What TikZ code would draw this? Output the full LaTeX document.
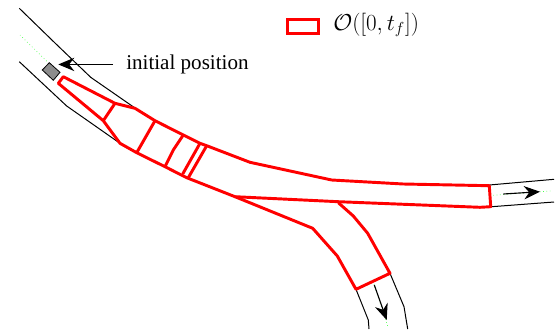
\documentclass[tikz,border=0pt]{standalone}
\usepackage{fontspec}
\setmainfont{Liberation Serif}
\usetikzlibrary{arrows.meta}
\tikzset{
  road/.style={draw=black, line width=0.75pt},
  centerline/.style={draw=green!70, dotted, line width=0.5pt},
  region/.style={draw=red, line width=2.2pt, line join=round},
  flow/.style={draw=black, line width=0.85pt, -{Stealth[length=12pt,width=10pt]}},
  textlabel/.style={inner sep=0.75pt, font=\fontsize{15.8}{18}\selectfont},
  mathlabel/.style={inner sep=0.75pt, font=\fontsize{18}{20}\selectfont}
}
\begin{document}
\begin{tikzpicture}[x=0.75pt,y=0.75pt,yscale=-1,xscale=1]
        \useasboundingbox (0,0) rectangle (560,329);
        % road borders
        \draw [road] (19.3,8.3) -- (55,43) -- (90.7,77.3) -- (135,108);
        \draw [road] (19.3,61.7) -- (66.7,106) -- (120,143.3);
        \draw [road] (489.3,185) -- (554,179.3);
        \draw [road] (491.7,206.7) -- (554,202);
        \draw [road] (356,289.3) -- (368.3,320) -- (369,329);
        \draw [road] (390,273.3) -- (404,306.7) -- (407.7,329);
        % center lines
        \draw [centerline] (20,35) -- (48.3,62.7);
        \draw [centerline] (493.3,195.3) -- (553,190.7);
        \draw [centerline] (374,284) -- (388.3,328);
        % vehicle
        \draw [fill=black!45, line width=0.6pt] (42.3,70) -- (53.3,80.3) -- (60,72.3) -- (49.3,62.7) -- cycle;
        % occupancy
        \draw [region] (63.3,76.7) -- (115,103.3) -- (135,108.3) -- (155,120.7) -- (183.3,135) -- (200,143.3) -- (206.7,145.7) -- (250,162.3) -- (331.7,180) -- (403.3,184) -- (489.3,185.7) -- (490.7,206.7) -- (480,207.3) -- (338.3,201.7) -- (235,196.7) -- (186.7,177.7) -- (165,166.7) -- (136.7,152.7) -- (120,143.3) -- (103.3,120.7) -- (58.3,83.3) -- cycle;
        \draw [region] (235,196.7) -- (312.7,228.3) -- (337.3,256) -- (356,289.3) -- (390,273.3) -- (367.7,233.3) -- (353.3,216) -- (338.3,202.7);
        \draw [region] (115,103.3) -- (103.3,120.7);
        \draw [region] (155,120.7) -- (136.7,152.7);
        \draw [region] (183.3,135) -- (173.3,150) -- (165,166.7);
        \draw [region] (200,143.3) -- (182.7,174);
        \draw [region] (206.7,145.7) -- (188.3,177.7);
        % direction arrows
        \coordinate (rightstart) at (503.3,194);
        \coordinate (rightend) at (540,191.7);
        \coordinate (downstart) at (374.3,285);
        \coordinate (downend) at (386.7,320);
        \draw [flow] (rightstart) -- (rightend);
        \draw [flow] (downstart) -- (downend);
        % labels
        \node [textlabel, anchor=base west] (initlabel) at (125,69.5) {initial position};
        \coordinate (vehicle) at (58.3,65);
        \draw [flow, shorten <=9pt] (initlabel.west) -- (vehicle |- initlabel.west);
        \node [draw=red, line width=2.2pt, inner sep=0pt, anchor=north west, text width=23pt, minimum height=10.5pt] (legendbox) at (286.3,18) {};
        \node [mathlabel, anchor=west] (legendlabel) at (332,25) {$\mathcal{O}([0,t_f])$};
    \end{tikzpicture}
\end{document}
